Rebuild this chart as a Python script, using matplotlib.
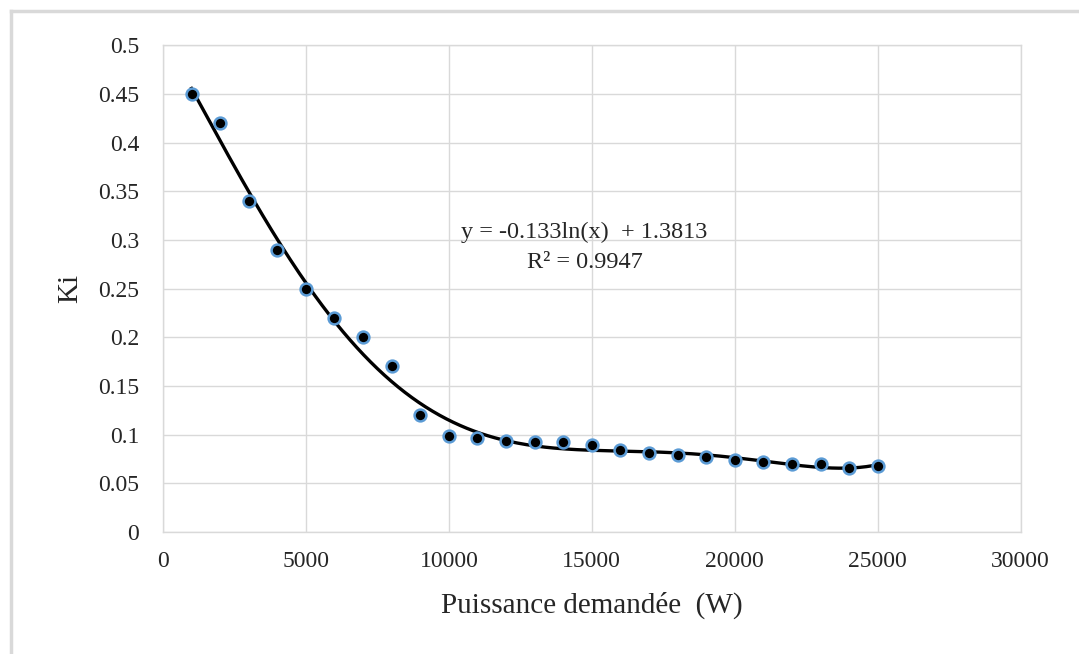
import matplotlib.pyplot as plt
import numpy as np
from matplotlib.lines import Line2D

# puissance demandee (W) et Ki
puissance = [1000, 2000, 3000, 4000, 5000, 6000, 7000, 8000, 9000, 10000,
             11000, 12000, 13000, 14000, 15000, 16000, 17000, 18000, 19000,
             20000, 21000, 22000, 23000, 24000, 25000]
ki = [0.45, 0.42, 0.34, 0.29, 0.25, 0.22, 0.20, 0.17, 0.12, 0.099,
      0.097, 0.0935, 0.092, 0.092, 0.089, 0.084, 0.0815, 0.079, 0.077,
      0.074, 0.072, 0.070, 0.070, 0.0655, 0.068]
equation = "y = -0.133ln(x)  + 1.3813"
r2_text = "R² = 0.9947"

plt.rcParams['font.family'] = ['Liberation Serif', 'DejaVu Serif']

fig = plt.figure(figsize=(10.79, 6.54), dpi=100)
ax = fig.add_axes([0.151, 0.1865, 0.795, 0.7445])

x = np.array(puissance, dtype=float)
y = np.array(ki)

# courbe de tendance lissee (ajustement polynomial sur les points)
coef = np.polyfit(x / 1000, y, 6)
xs = np.linspace(x.min(), x.max(), 300)
ax.plot(xs, np.polyval(coef, xs / 1000), color='black', linewidth=2.4, zorder=3)

ax.plot(x, y, linestyle='none', marker='o', markersize=8.5,
        markerfacecolor='black', markeredgecolor='#5b9bd5',
        markeredgewidth=1.8, zorder=4)

ax.set_xlim(0, 30000)
ax.set_ylim(0, 0.5)
ax.set_xticks(np.arange(0, 30001, 5000))
ax.set_yticks(np.arange(0, 0.501, 0.05))
ax.set_xticklabels([f"{int(v)}" for v in ax.get_xticks()])
ax.set_yticklabels(["0", "0.05", "0.1", "0.15", "0.2", "0.25", "0.3",
                    "0.35", "0.4", "0.45", "0.5"])
ax.tick_params(length=0, labelsize=17, colors='#262626')
ax.tick_params(axis='x', pad=14)
ax.tick_params(axis='y', pad=17)
ax.grid(True, color='#d9d9d9', linewidth=1)
ax.set_axisbelow(True)
for s in ax.spines.values():
    s.set_color('#d9d9d9')
    s.set_linewidth(1)

ax.set_xlabel("Puissance demandée  (W)", fontsize=21, color='#262626')
ax.set_ylabel("Ki", fontsize=21, color='#262626')
ax.xaxis.set_label_coords(0.5, -0.123)
ax.yaxis.set_label_coords(-0.093, 0.5)

ax.text(14750, 0.308, equation, ha='center', va='center', fontsize=17.5, color='#262626')
ax.text(14750, 0.277, r2_text, ha='center', va='center', fontsize=17.5, color='#262626')

# cadre exterieur (haut et gauche)
fig.add_artist(Line2D([0.0105, 1.0], [0.983, 0.983], color='#d9d9d9', linewidth=2.5))
fig.add_artist(Line2D([0.0105, 0.0105], [0.0, 0.983], color='#d9d9d9', linewidth=2.5))

fig.savefig("out.png", dpi=100)
